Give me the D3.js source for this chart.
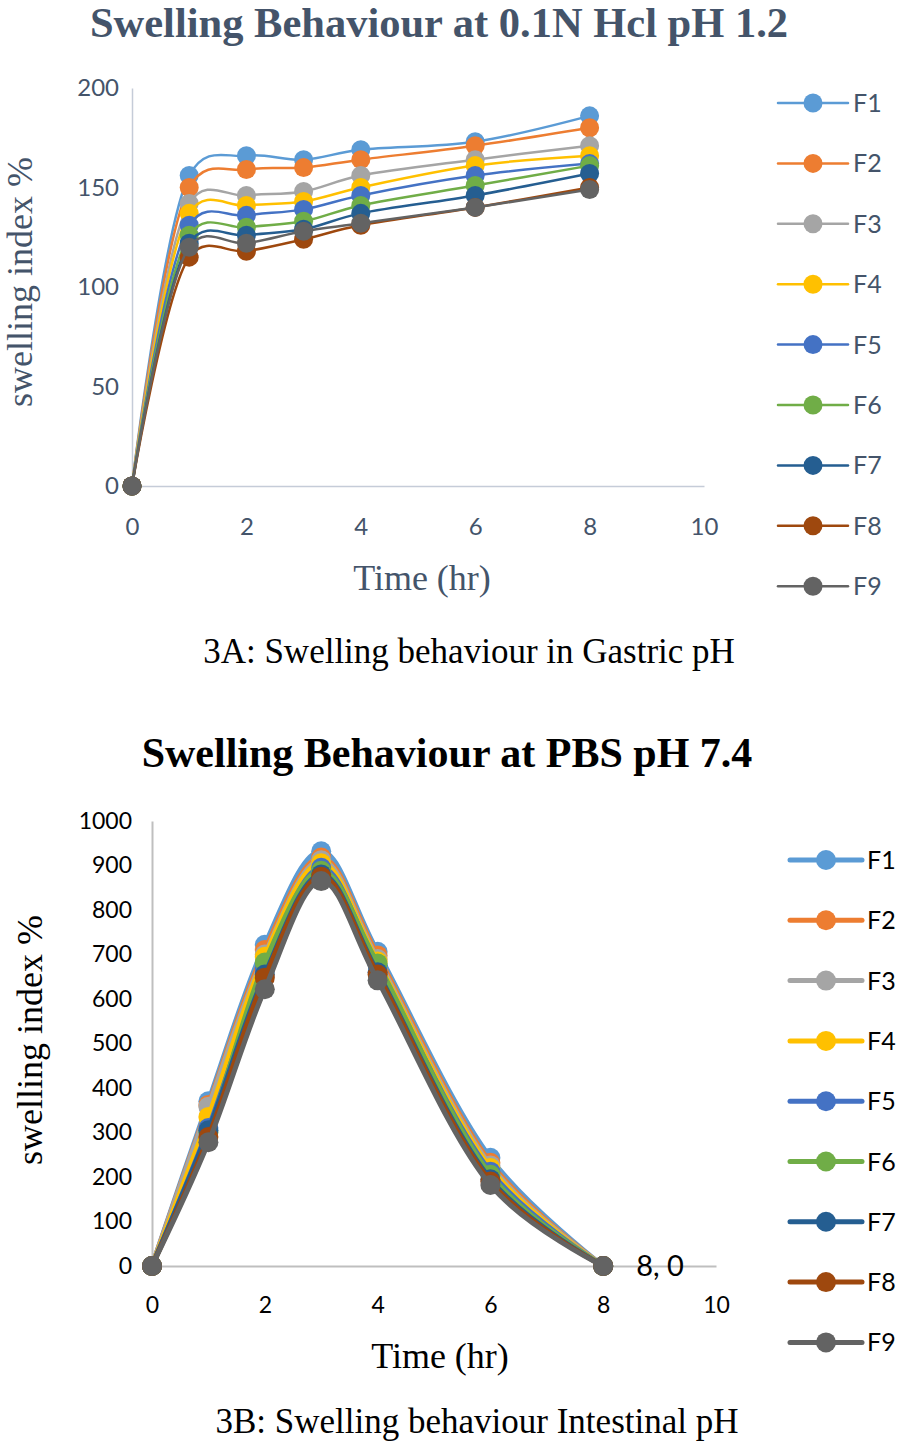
<!DOCTYPE html>
<html><head><meta charset="utf-8">
<script src="https://cdn.jsdelivr.net/npm/d3@7"></script>
<style>html,body{margin:0;padding:0;background:#fff;}</style>
</head><body>
<svg id="c" width="904" height="1445"></svg>
<script>
const series = ["F1","F2","F3","F4","F5","F6","F7","F8","F9"];
const colors = ["#5B9BD5","#ED7D31","#A5A5A5","#FFC000","#4472C4","#70AD47","#255E91","#9E480E","#636363"];
const times = [0,1,2,3,4,6,8];
// Gastric pH 1.2
const gastric = [
  [0,156,166,164,169,173,186],
  [0,150,159,160,164,171,180],
  [0,142,146,148,156,164,171],
  [0,137,141,143,150,161,166],
  [0,131,136,139,146,156,162],
  [0,126,130,133,141,151,161],
  [0,122,126,129,137,146,157],
  [0,115,118,124,131,140,150],
  [0,120,122,128,132,140,149]
];
// PBS pH 7.4
const intestinal = [
  [0,370,722,932,706,243,0],
  [0,362,710,918,698,232,0],
  [0,358,700,912,690,226,0],
  [0,335,695,905,684,220,0],
  [0,310,668,895,676,212,0],
  [0,300,682,888,680,205,0],
  [0,305,655,880,660,195,0],
  [0,290,648,875,655,190,0],
  [0,278,622,865,642,182,0]
];
const xTicks = [0,2,4,6,8,10];
const yTicksA = [0,50,100,150,200];
const yTicksB = [0,100,200,300,400,500,600,700,800,900,1000];

const svg = d3.select("#c");
const serif = "'Liberation Serif','Times New Roman',serif";
const sans = "Lato,'Open Sans',sans-serif";

function chart(o){
  const g = svg.append("g");
  const x = d3.scaleLinear().domain([0,10]).range([o.x0,o.x1]);
  const y = d3.scaleLinear().domain([0,o.ymax]).range([o.y0,o.y1]);
  // title
  g.append("text").attr("x",o.titleX).attr("y",o.titleY).attr("text-anchor","middle")
    .attr("font-family",serif).attr("font-weight","bold").attr("font-size",o.titleFs)
    .attr("fill",o.titleColor).text(o.title);
  // axes
  const ya = d3.axisLeft(y).tickValues(o.yTicks).tickSize(0).tickPadding(o.yPad).tickFormat(d3.format("d"));
  const yg = g.append("g").attr("transform",`translate(${o.x0},0)`).call(ya);
  yg.select(".domain").attr("stroke",o.axisColor).attr("stroke-width",o.axisW);
  yg.selectAll("text").attr("font-family",sans).attr("font-size",o.tickFs).attr("fill",o.tickColor);
  const xa = d3.axisBottom(x).tickValues(xTicks).tickSize(0).tickPadding(o.xPad);
  const xg = g.append("g").attr("transform",`translate(0,${o.y0})`).call(xa);
  xg.select(".domain").attr("stroke",o.axisColor).attr("stroke-width",o.axisW);
  xg.selectAll("text").attr("font-family",sans).attr("font-size",o.tickFs).attr("fill",o.tickColor);
  // axis titles
  g.append("text").attr("x",o.xtX).attr("y",o.xtY).attr("text-anchor","middle")
    .attr("font-family",serif).attr("font-size",36).attr("fill",o.labColor).text("Time (hr)");
  g.append("text").attr("transform",`translate(${o.ytX},${o.ytY}) rotate(-90)`).attr("text-anchor","middle")
    .attr("font-family",serif).attr("font-size",36).attr("fill",o.labColor).text("swelling index %");
  // lines
  const line = d3.line().x((d,i)=>x(times[i])).y(d=>y(d)).curve(d3.curveCatmullRom.alpha(0.25));
  o.data.forEach((vals,si)=>{
    const sg = g.append("g");
    sg.append("path").attr("d",line(vals)).attr("fill","none").attr("stroke",colors[si])
      .attr("stroke-width",o.lw).attr("stroke-linejoin","round").attr("stroke-linecap","round");
    sg.selectAll("circle").data(vals).join("circle")
      .attr("cx",(d,i)=>x(times[i])).attr("cy",d=>y(d)).attr("r",o.r).attr("fill",colors[si]);
  });
  // legend
  series.forEach((s,i)=>{
    const ly = o.legY0 + i*o.legDy;
    const lg = g.append("g");
    lg.append("line").attr("x1",o.legX).attr("x2",o.legX+o.legLen).attr("y1",ly).attr("y2",ly)
      .attr("stroke",colors[i]).attr("stroke-width",o.legLw).attr("stroke-linecap","round");
    lg.append("circle").attr("cx",o.legX+o.legLen/2).attr("cy",ly).attr("r",o.r).attr("fill",colors[i]);
    lg.append("text").attr("x",o.legX+o.legLen+5).attr("y",ly).attr("dy","0.36em")
      .attr("font-family",sans).attr("font-size",25).attr("fill",o.legColor).text(s);
  });
  // caption
  g.append("text").attr("x",o.capX).attr("y",o.capY).attr("text-anchor","middle")
    .attr("font-family",serif).attr("font-size",35).attr("fill","#000").text(o.caption);
  return {g,x,y};
}

chart({
  title:"Swelling Behaviour at 0.1N Hcl pH 1.2", titleX:439, titleY:37, titleFs:42.5, titleColor:"#44546A",
  x0:132,x1:704,y0:486,y1:88,ymax:200,yTicks:yTicksA,
  axisColor:"#C5CCD8", axisW:1.5, tickFs:24, tickColor:"#44546A", labColor:"#44546A",
  yPad:13, xPad:32,
  xtX:422, xtY:590, ytX:32, ytY:282,
  data:gastric, lw:2.5, r:9.5,
  legX:778, legLen:70, legY0:103, legDy:60.4, legLw:2.5, legColor:"#44546A",
  caption:"3A: Swelling behaviour in Gastric pH", capX:469, capY:663
});

const B = chart({
  title:"Swelling Behaviour at PBS pH 7.4", titleX:447, titleY:767, titleFs:42, titleColor:"#000",
  x0:152,x1:716,y0:1266,y1:821,ymax:1000,yTicks:yTicksB,
  axisColor:"#BFBFBF", axisW:2, tickFs:23, tickColor:"#000", labColor:"#000",
  yPad:20, xPad:31,
  xtX:440, xtY:1368, ytX:42, ytY:1040,
  data:intestinal, lw:5, r:10,
  legX:790, legLen:72, legY0:860, legDy:60.3, legLw:5, legColor:"#000",
  caption:"3B: Swelling behaviour Intestinal pH", capX:477, capY:1433
});
// data label on the last point
B.g.append("text").attr("x",B.x(times[6])+33).attr("y",B.y(intestinal[8][6])).attr("dy","0.36em")
  .attr("font-family",sans).attr("font-size",29).attr("fill","#000")
  .text(times[6]+", "+intestinal[8][6]);
</script>
</body></html>
